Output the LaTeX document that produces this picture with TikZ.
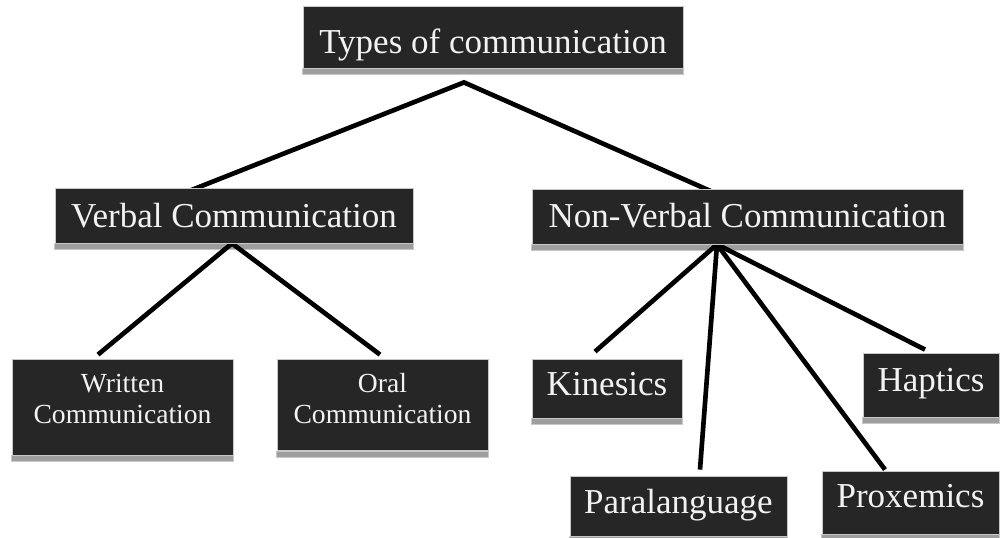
\documentclass[tikz,border=0pt]{standalone}
\usepackage{fontspec}
\setmainfont{Liberation Serif}
\usetikzlibrary{calc}
\definecolor{boxfill}{HTML}{262626}
\definecolor{boxedge}{HTML}{C8C8C8}
\definecolor{barfill}{HTML}{9E9E9E}
\definecolor{txt}{HTML}{F2F2F2}
\pgfdeclarelayer{bars}
\pgfdeclarelayer{links}
\pgfsetlayers{bars,links,main}
\tikzset{
  box/.style={fill=boxfill, draw=boxedge, line width=0.6pt, text=txt,
    inner sep=0pt, anchor=base, align=center},
  big/.style={font=\fontsize{26.25}{30}\selectfont},
  small/.style={font=\fontsize{20.7}{23.25}\selectfont},
  link/.style={line width=3.5pt, line join=miter, black},
  bar/.style={fill=barfill, draw=boxedge, line width=0.5pt}
}
\begin{document}
\begin{tikzpicture}[x=0.75pt, y=-0.75pt]
\useasboundingbox (0,0) rectangle (1001,537);

% boxes (positioned by text baseline)
\node[box, big, minimum width=285pt, text height=35.25pt, text depth=11.25pt]
  (top) at (493,53) {Types of communication};
\node[box, big, minimum width=268.5pt, text height=29.25pt, text depth=12pt]
  (verbal) at (234,227) {Verbal Communication};
\node[box, big, minimum width=323.25pt, text height=28.125pt, text depth=12.75pt]
  (nonverbal) at (747.5,227) {Non-Verbal Communication};
\node[box, small, minimum width=165.75pt, text height=24.75pt, text depth=47.25pt]
  (written) at (122.5,392) {\begin{tabular}[t]{@{}c@{}}Written\\Communication\end{tabular}};
\node[box, small, minimum width=158.25pt, text height=24.75pt, text depth=43.875pt]
  (oral) at (382.5,392) {\begin{tabular}[t]{@{}c@{}}Oral\\Communication\end{tabular}};
\node[box, big, minimum width=112.5pt, text height=27pt, text depth=17.25pt]
  (kinesics) at (607,395) {Kinesics};
\node[box, big, minimum width=102pt, text height=28.875pt, text depth=19.125pt]
  (haptics) at (931,391.5) {Haptics};
\node[box, big, minimum width=162.75pt, text height=27.75pt, text depth=17.25pt]
  (para) at (678.5,513) {Paralanguage};
\node[box, big, minimum width=132.75pt, text height=27.375pt, text depth=19.875pt]
  (prox) at (910.5,507.5) {Proxemics};

% grey ledges under every box
\begin{pgfonlayer}{bars}
  \foreach \n in {top,verbal,nonverbal,written,oral,kinesics,haptics,para,prox}
    \path[bar] (\n.south west) rectangle ($(\n.south east)+(0,6)$);
\end{pgfonlayer}

% connectors
\begin{pgfonlayer}{links}
  \coordinate (topfoot) at ($(top.south)+(-29,14)$);
  \coordinate (vfoot) at ($(verbal.south)+(-2,0)$);
  \coordinate (nfoot) at ($(nonverbal.south)+(-30.5,0)$);
  \draw[link] ($(verbal.north)+(-44,3)$) -- (topfoot) -- ($(nonverbal.north)+(-34.5,3)$);
  \draw[link] ($(written.north)+(-24.5,-4)$) -- (vfoot) -- ($(oral.north)+(-2.5,-4)$);
  \draw[link] (nfoot) -- ($(kinesics.north)+(-12,-7)$);
  \draw[link] (nfoot) -- ($(para.north)+(21.5,-6)$);
  \draw[link] (nfoot) -- ($(prox.north)+(-25.5,-1)$);
  \draw[link] (nfoot) -- ($(haptics.north)+(-6,-3)$);
\end{pgfonlayer}
\end{tikzpicture}
\end{document}
